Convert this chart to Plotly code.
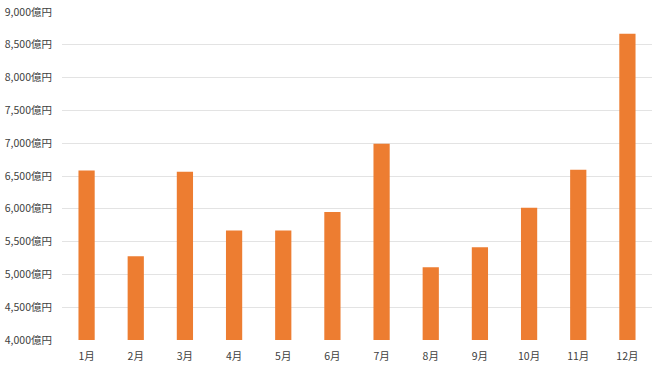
import plotly.graph_objects as go

months = ["1月", "2月", "3月", "4月", "5月", "6月", "7月", "8月", "9月", "10月", "11月", "12月"]
values = [6585, 5275, 6565, 5670, 5670, 5950, 6990, 5110, 5415, 6015, 6597, 8667]
tick_vals = [4000, 4500, 5000, 5500, 6000, 6500, 7000, 7500, 8000, 8500, 9000]
tick_text = [f"{v:,}億円" for v in tick_vals]

FONT = "Noto Sans CJK JP"

fig = go.Figure(go.Bar(
    x=months, y=values,
    marker=dict(color="#ED7D31", line=dict(width=0)),
    width=0.33,
))

fig.update_layout(
    width=660, height=371,
    margin=dict(l=62, r=8, t=12, b=31),
    paper_bgcolor="white", plot_bgcolor="white",
    font=dict(family=FONT, size=10.5, color="#595959"),
    showlegend=False,
    bargap=0.67,
)
fig.update_xaxes(
    showgrid=False, showline=False, ticks="",
    tickfont=dict(family=FONT, size=10.5, color="#404040"),
    ticklabelstandoff=8, automargin=False,
)
fig.update_yaxes(
    range=[4000, 9000], tickvals=tick_vals, ticktext=tick_text,
    showgrid=True, gridcolor="#e3e3e3", gridwidth=1,
    zeroline=False, showline=False, ticks="",
    tickfont=dict(family=FONT, size=10.5, color="#404040"),
    ticklabelstandoff=9, automargin=False,
)

fig.write_html("out.html")
